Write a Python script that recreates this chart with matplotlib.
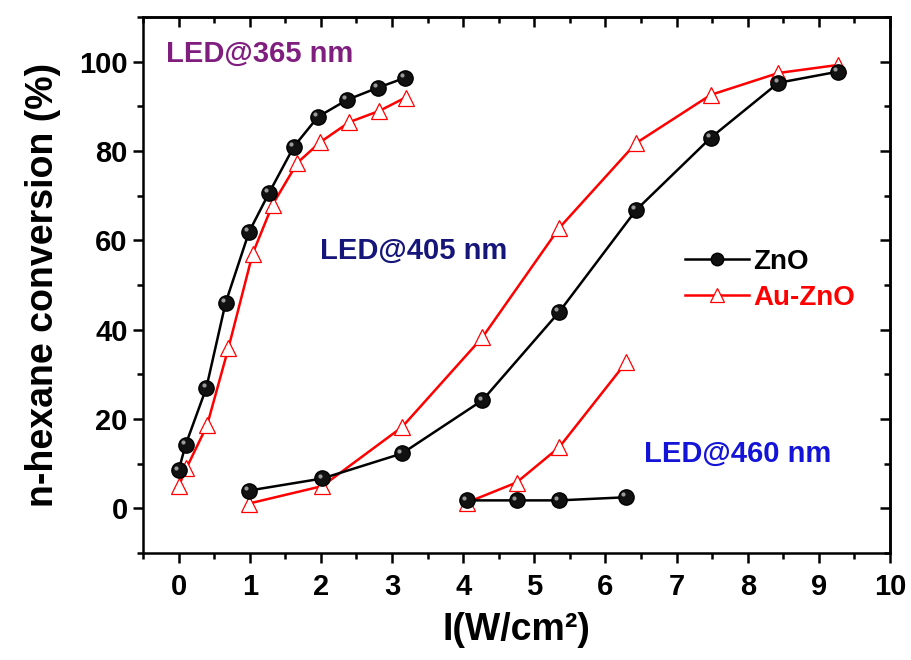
import matplotlib
matplotlib.use("Agg")
import matplotlib.pyplot as plt
from matplotlib.ticker import MultipleLocator
from matplotlib.transforms import offset_copy

plt.rcParams['font.family'] = ['Liberation Sans', 'DejaVu Sans']
plt.rcParams['font.weight'] = 'bold'

# LED@365 nm
x365_zno = [0.0, 0.1, 0.39, 0.66, 0.99, 1.27, 1.62, 1.96, 2.37, 2.80, 3.18]
y365_zno = [8.5, 14.3, 27.0, 46.0, 61.9, 70.6, 81.0, 87.7, 91.5, 94.2, 96.4]
x365_au = [0.0, 0.11, 0.40, 0.70, 1.04, 1.32, 1.67, 1.99, 2.40, 2.82, 3.19]
y365_au = [5.0, 9.0, 18.6, 35.9, 57.0, 68.0, 77.4, 82.0, 86.5, 89.0, 92.0]

# LED@405 nm
x405 = [0.99, 2.02, 3.14, 4.27, 5.35, 6.43, 7.48, 8.43, 9.27]
y405_zno = [4.0, 6.7, 12.3, 24.2, 44.0, 66.8, 83.0, 95.3, 97.8]
y405_au = [1.1, 5.0, 18.2, 38.3, 62.8, 81.8, 92.6, 97.5, 99.3]

# LED@460 nm
x460 = [4.05, 4.75, 5.35, 6.29]
y460_zno = [1.8, 1.8, 1.8, 2.5]
y460_au = [1.3, 5.8, 13.7, 32.7]

fig = plt.figure(figsize=(9.11, 6.6), dpi=100)
ax = fig.add_axes([0.157, 0.162, 0.820, 0.812])

zno_style = dict(color='black', lw=1.8, marker='o', ms=11, mfc='#111111', mec='black', zorder=3)
au_style = dict(color='red', lw=1.8, marker='^', ms=12, mfc='white', mec='red', mew=0.9, zorder=2)

# little highlight to make the black balls look shiny
shine = offset_copy(ax.transData, fig=fig, x=-2, y=2, units='points')

for xs, ys in [(x365_zno, y365_zno), (x405, y405_zno), (x460, y460_zno)]:
    ax.plot(xs, ys, **zno_style)
    ax.plot(xs, ys, ls='none', marker='o', ms=3, mfc='#9a9a9a', mec='none',
            transform=shine, zorder=4)
for xs, ys in [(x365_au, y365_au), (x405, y405_au), (x460, y460_au)]:
    ax.plot(xs, ys, **au_style)

# legend handles
ax.plot([], [], label='ZnO', color='black', lw=1.8, marker='o', ms=9, mfc='#111111', mec='black')
ax.plot([], [], label='Au-ZnO', color='red', lw=1.8, marker='^', ms=10, mfc='white', mec='red', mew=0.9)

ax.set_xlim(-0.5, 10)
ax.set_ylim(-10, 110)
ax.xaxis.set_major_locator(MultipleLocator(1))
ax.xaxis.set_minor_locator(MultipleLocator(0.5))
ax.yaxis.set_major_locator(MultipleLocator(20))
ax.yaxis.set_minor_locator(MultipleLocator(10))
ax.tick_params(which='major', direction='out', length=7, width=1.8, labelsize=21)
ax.tick_params(which='minor', direction='out', length=4, width=1.8)
ax.tick_params(axis='x', which='major', pad=7)
ax.tick_params(axis='y', which='major', pad=4)
for s in ax.spines.values():
    s.set_linewidth(1.8)

# mirrored ticks on top and right, pointing inward
top = ax.secondary_xaxis('top')
top.xaxis.set_major_locator(MultipleLocator(1))
top.xaxis.set_minor_locator(MultipleLocator(0.5))
top.tick_params(which='major', direction='in', length=7, width=1.8, labeltop=False)
top.tick_params(which='minor', direction='in', length=4, width=1.8)
right = ax.secondary_yaxis('right')
right.yaxis.set_major_locator(MultipleLocator(20))
right.yaxis.set_minor_locator(MultipleLocator(10))
right.tick_params(which='major', direction='in', length=7, width=1.8, labelright=False)
right.tick_params(which='minor', direction='in', length=4, width=1.8)
for s in list(top.spines.values()) + list(right.spines.values()):
    s.set_linewidth(1.8)

ax.set_xlabel('I(W/cm²)', fontsize=27, fontweight='bold', labelpad=8)
ax.set_ylabel('n-hexane conversion (%)', fontsize=27, fontweight='bold', labelpad=13)

ax.text(-0.18, 101.8, 'LED@365 nm', color='#801e80', fontsize=21, fontweight='bold', va='center')
ax.text(1.99, 57.6, 'LED@405 nm', color='#16167a', fontsize=21, fontweight='bold', va='center')
ax.text(6.54, 12.3, 'LED@460 nm', color='#1414d8', fontsize=21, fontweight='bold', va='center')

ax.legend(loc='center left', bbox_to_anchor=(0.726, 0.51), frameon=False, fontsize=20,
          handlelength=2.3, handletextpad=0.15, labelspacing=0.35, borderpad=0,
          borderaxespad=0, labelcolor=['black', 'red'])

fig.savefig('out.png', dpi=100)
